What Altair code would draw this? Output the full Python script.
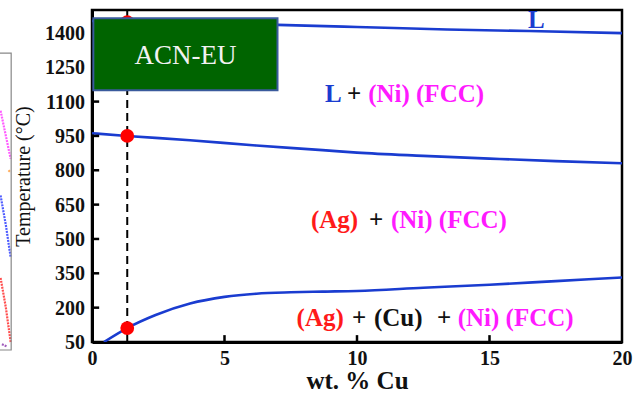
import altair as alt
import pandas as pd

# Phase boundaries of the Ag-Cu-Ni section (wt. % Cu vs temperature)
liq_x = [0, 1.33, 4, 7, 10, 13.4, 16.5, 20]
liq_T = [1452, 1447, 1442, 1435, 1426, 1415, 1408, 1399]

mid_x = [0, 1.33, 3.7, 6.2, 8.7, 10, 12.5, 15, 17.5, 20]
mid_T = [962, 950, 931, 908, 888, 877, 863, 851, 840, 831]

low_x = [0.45, 1.33, 2.4, 3.7, 5, 6.2, 7.5, 8.7, 10, 12.5, 15, 17.5, 20]
low_T = [50, 111, 168, 218, 247, 261, 267, 270, 273, 287, 300, 316, 332]

# Selected composition and its transition points
comp_x = 1.33
point_T = [1447, 950, 111]

x_ticks = [0, 5, 10, 15, 20]
y_ticks = [50, 200, 350, 500, 650, 800, 950, 1100, 1250, 1400]

# Phase-field labels: (text piece, x, T baseline, colour)
BLUE, RED, MAG, BLK = "#1a3cd0", "#ff1a1a", "#ff1aff", "#111111"
label_text = ["L",
              "L", "+", "(Ni) (FCC)",
              "(Ag)", "+", "(Ni) (FCC)",
              "(Ag)", "+", "(Cu)", "+", "(Ni) (FCC)"]
label_x = [16.45,
           8.79, 9.62, 10.42,
           8.26, 10.45, 11.28,
           7.72, 9.81, 10.64, 13.02, 13.8]
label_T = [1421,
           1098, 1098, 1098,
           548, 548, 548,
           118, 118, 118, 118, 118]
label_color = [BLUE,
               BLUE, BLK, MAG,
               RED, BLK, MAG,
               RED, BLK, BLK, BLK, MAG]

# Inset badge
badge_x = [0.05, 7.0]
badge_T = [1150, 1464]
badge_text = "ACN-EU"

# Edge of the neighbouring panel (left margin)
side_frame_x = [-3.5, -3.05, -3.05, -3.5]
side_frame_T = [1312, 1312, 15, 15]
side_series = {
    "#ff33ff": ([-3.45, -3.25, -3.07], [1060, 950, 850]),
    "#ff9933": ([-3.15, -3.07], [800, 790]),
    "#2233ff": ([-3.45, -3.25, -3.07], [690, 560, 420]),
    "#ff2222": ([-3.45, -3.25, -3.07], [330, 200, 50]),
    "#8833aa": ([-3.4, -3.2], [40, 30]),
}

FONT = "Liberation Serif"
W, H = 530, 332
xs = alt.Scale(domain=[0, 20], nice=False, zero=False)
ys = alt.Scale(domain=[50, 1500], nice=False, zero=False)


def curve(xv, tv, name):
    return pd.DataFrame({"x": xv, "T": tv, "curve": name})


curves = pd.concat([curve(liq_x, liq_T, "liquidus"),
                    curve(mid_x, mid_T, "solidus"),
                    curve(low_x, low_T, "solvus")])

base_x = alt.X("x:Q", scale=xs, title="wt. % Cu",
               axis=alt.Axis(values=x_ticks, format="d", labelFlush=False,
                             titleFontSize=25, titleFontWeight="bold",
                             titlePadding=0))
base_y = alt.Y("T:Q", scale=ys, title="Temperature (°C)",
               axis=alt.Axis(values=y_ticks, labels=False,
                             titleFontSize=20, titleFontWeight="normal",
                             titleX=-69, titleY=H / 2, titleBaseline="middle",
                             titleAlign="center", titleAngle=270))

lines = alt.Chart(curves).mark_line(color="#1a3cd0", strokeWidth=2.6,
                                    interpolate="monotone", clip=True).encode(
    x=base_x, y=base_y, detail="curve:N")

# Temperature tick labels
ylab = alt.Chart(pd.DataFrame({"T": y_ticks, "x": 0,
                               "t": [str(v) for v in y_ticks]})).mark_text(
    font=FONT, fontSize=20, fontWeight="bold", color="#111", align="right",
    baseline="middle", dx=-7, dy=1).encode(
    x=alt.X("x:Q", scale=xs), y=alt.Y("T:Q", scale=ys), text="t:N")

dash = alt.Chart(pd.DataFrame({"x": [comp_x], "T": [50], "T2": [1500]})).mark_rule(
    color="black", strokeWidth=2, strokeDash=[8, 5]).encode(
    x=alt.X("x:Q", scale=xs), y=alt.Y("T:Q", scale=ys), y2="T2:Q")

dots = alt.Chart(pd.DataFrame({"x": [comp_x] * 3, "T": point_T})).mark_point(
    filled=True, shape="circle", size=190, color="#ff0000", opacity=1).encode(
    x=alt.X("x:Q", scale=xs), y=alt.Y("T:Q", scale=ys))

# Inward ticks
xt = pd.DataFrame({"x": x_ticks[1:-1], "T": 50, "T2": 80})
yt = pd.DataFrame({"T": y_ticks[1:], "x": 0, "x2": 0.27})
xtick = alt.Chart(xt).mark_rule(color="black", strokeWidth=2.5).encode(
    x=alt.X("x:Q", scale=xs), y=alt.Y("T:Q", scale=ys), y2="T2:Q")
ytick = alt.Chart(yt).mark_rule(color="black", strokeWidth=2.5).encode(
    y=alt.Y("T:Q", scale=ys), x=alt.X("x:Q", scale=xs), x2="x2:Q")

labels_df = pd.DataFrame({"text": label_text, "x": label_x, "T": label_T,
                          "c": label_color})
labels = alt.Chart(labels_df).mark_text(
    font=FONT, fontSize=25, fontWeight="bold", align="left",
    baseline="alphabetic").encode(
    x=alt.X("x:Q", scale=xs), y=alt.Y("T:Q", scale=ys), text="text:N",
    color=alt.Color("c:N", scale=None))

badge = alt.Chart(pd.DataFrame({"x": [badge_x[0]], "x2": [badge_x[1]],
                                "T": [badge_T[0]], "T2": [badge_T[1]]})).mark_rect(
    fill="#006400", stroke="#3a5a9c", strokeWidth=2).encode(
    x=alt.X("x:Q", scale=xs), x2="x2:Q", y=alt.Y("T:Q", scale=ys), y2="T2:Q")

badge_label = alt.Chart(pd.DataFrame({"x": [sum(badge_x) / 2], "T": [1262],
                                      "text": [badge_text]})).mark_text(
    font=FONT, fontSize=27, color="#f2f2f2", align="center",
    baseline="alphabetic").encode(
    x=alt.X("x:Q", scale=xs), y=alt.Y("T:Q", scale=ys), text="text:N")

side_frame = alt.Chart(pd.DataFrame({"x": side_frame_x, "T": side_frame_T,
                                     "o": range(4)})).mark_line(
    color="#888888", strokeWidth=1.2, clip=False).encode(
    x=alt.X("x:Q", scale=xs), y=alt.Y("T:Q", scale=ys), order="o:Q")

side_rows = []
for col, (sx, st) in side_series.items():
    for i, (a, b) in enumerate(zip(sx, st)):
        side_rows.append({"x": a, "T": b, "c": col, "o": i})
side_lines = alt.Chart(pd.DataFrame(side_rows)).mark_line(
    strokeWidth=2.2, strokeDash=[2, 1], clip=False, opacity=0.8).encode(
    x=alt.X("x:Q", scale=xs), y=alt.Y("T:Q", scale=ys),
    color=alt.Color("c:N", scale=None), detail="c:N", order="o:Q")

chart = alt.layer(
    lines, ylab, side_lines, side_frame, dash, dots, xtick, ytick, labels,
    badge, badge_label
).properties(
    width=W, height=H,
    autosize=alt.AutoSizeParams(type="none"),
    padding={"left": 92, "top": 10, "right": 12, "bottom": 58},
    background="white",
).configure_view(
    stroke="black", strokeWidth=2.5
).configure_axis(
    tickSize=0, labelPadding=6, grid=False, domainWidth=3, domainColor="black",
    labelFont=FONT, labelFontSize=20, labelFontWeight="bold", labelColor="#111",
    titleFont=FONT, titleColor="#111", labelOverlap=False
)

chart.save("out.html", embed_options={"renderer": "svg", "actions": False})
